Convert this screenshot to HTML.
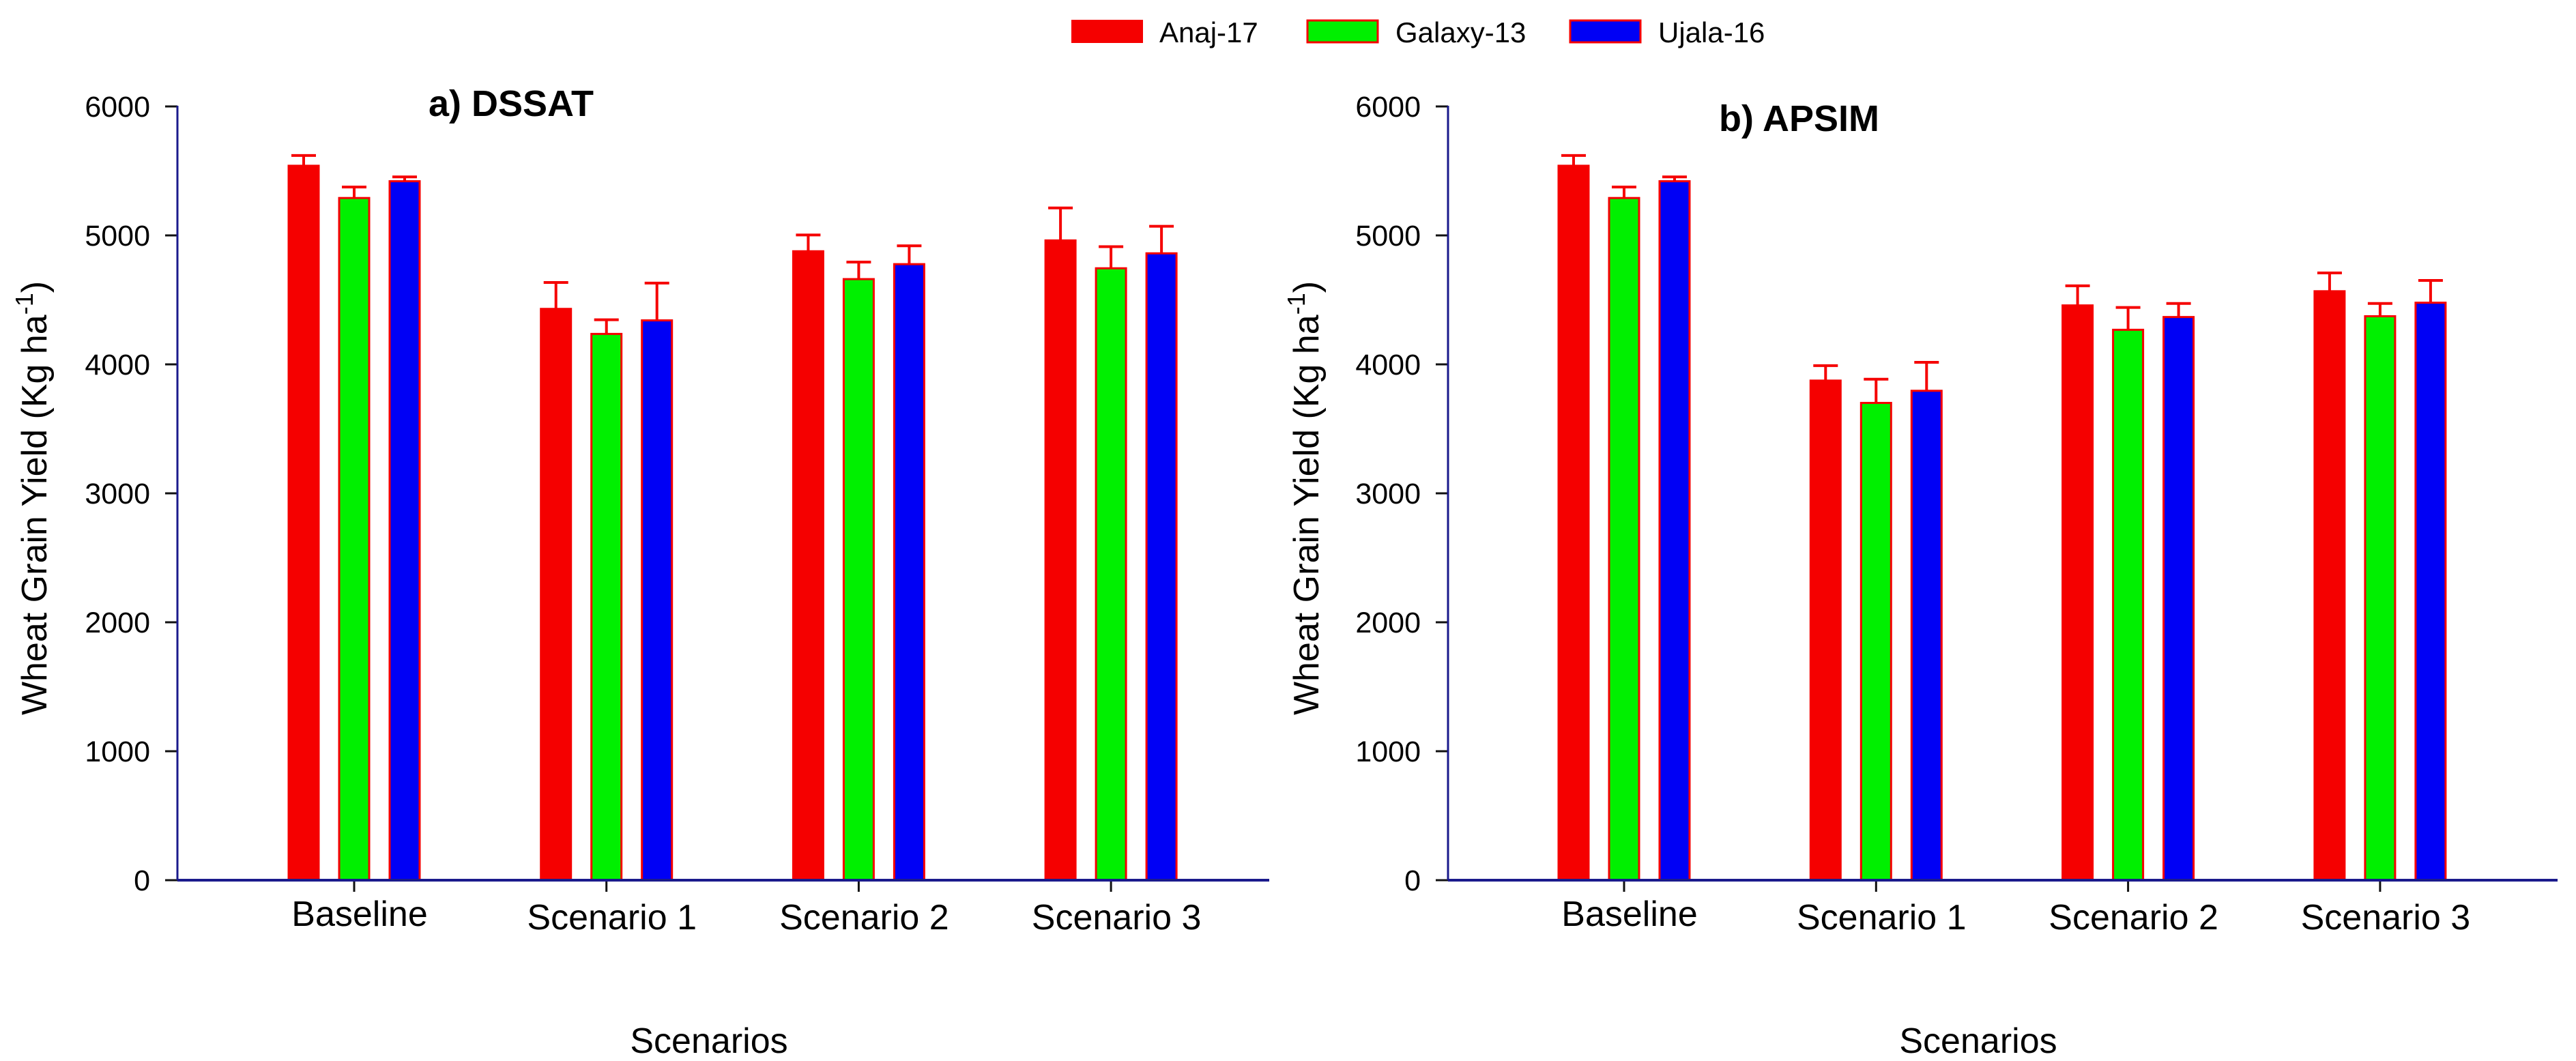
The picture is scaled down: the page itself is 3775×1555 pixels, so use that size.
<!DOCTYPE html>
<html><head><meta charset="utf-8"><style>
html,body{margin:0;padding:0;background:#fff}
svg{display:block}
text{font-family:"Liberation Sans",sans-serif}
</style></head><body>
<svg id="chart" width="3775" height="1555" viewBox="0 0 3775 1555" xmlns="http://www.w3.org/2000/svg">
<g>
<rect x="1571" y="30" width="103" height="32" fill="#f50000" stroke="#f50000" stroke-width="2"/>
<text x="1699" y="62" font-size="42">Anaj-17</text>
<rect x="1916" y="30" width="103" height="32" fill="#00f000" stroke="#f50000" stroke-width="3"/>
<text x="2045" y="62" font-size="42">Galaxy-13</text>
<rect x="2301" y="30" width="103" height="32" fill="#0000f5" stroke="#f50000" stroke-width="3"/>
<text x="2430" y="62" font-size="42">Ujala-16</text>
</g>
</svg>
<script>
const categories = ["Baseline", "Scenario 1", "Scenario 2", "Scenario 3"];
const seriesNames = ["Anaj-17", "Galaxy-13", "Ujala-16"];
const yTicks = [0, 1000, 2000, 3000, 4000, 5000, 6000];
const dssatAnaj = [5540, 4430, 4877, 4961];
const dssatGalaxy = [5290, 4236, 4661, 4745];
const dssatUjala = [5420, 4341, 4777, 4861];
const dssatAnajErr = [5620, 4635, 5003, 5213];
const dssatGalaxyErr = [5375, 4346, 4793, 4913];
const dssatUjalaErr = [5454, 4630, 4919, 5071];
const apsimAnaj = [5540, 3874, 4457, 4567];
const apsimGalaxy = [5290, 3701, 4268, 4373];
const apsimUjala = [5420, 3795, 4367, 4478];
const apsimAnajErr = [5620, 3990, 4609, 4709];
const apsimGalaxyErr = [5375, 3885, 4441, 4472];
const apsimUjalaErr = [5454, 4016, 4472, 4651];

const NS = "http://www.w3.org/2000/svg";
const svg = document.getElementById("chart");
const fills = ["#f50000", "#00f000", "#0000f5"];
function mk(tag, attrs, parent) {
  const e = document.createElementNS(NS, tag);
  for (const k in attrs) e.setAttribute(k, attrs[k]);
  parent.appendChild(e);
  return e;
}
function panel(key, cfg, vals, errs) {
  const g = mk("g", {}, svg);
  
  
  const y0 = 1290, y1 = 156, ymax = 6000;
  const yScale = v => y0 - v / ymax * (y0 - y1);
  const xScale = i => cfg.firstTick + i * cfg.step;
  yTicks.forEach(t => {
    const y = yScale(t);
    const l = mk("line", {x1: cfg.ax - 18, x2: cfg.ax, y1: y, y2: y, stroke: "#111", "stroke-width": 3}, g);
    
    
    const tx = mk("text", {x: cfg.ax - 40, y: y + 15, "font-size": 43, "text-anchor": "end"}, g);
    
    
    tx.textContent = t;
  });
  categories.forEach((c, i) => {
    const cx = xScale(i);
    for (let s = 0; s < 3; s++) {
      const bx = cx + (s - 1) * 74;
      const v = vals[s][i], e = errs[s][i];
      const el = mk("line", {x1: bx, x2: bx, y1: yScale(v), y2: yScale(e), stroke: "#f50000", "stroke-width": 4}, g);
      
      
      const cap = mk("line", {x1: bx - 18, x2: bx + 18, y1: yScale(e), y2: yScale(e), stroke: "#f50000", "stroke-width": 4}, g);
      
      
      const r = mk("rect", {x: bx - 22, y: yScale(v), width: 44, height: y0 - yScale(v), fill: fills[s], stroke: "#f50000", "stroke-width": 3}, g);
      
      
    }
    const tk = mk("line", {x1: cx, x2: cx, y1: y0, y2: y0 + 17, stroke: "#111", "stroke-width": 3}, g);
    
    
    const lb = mk("text", {x: cx + 8, y: y0 + (i === 0 ? 67 : 72), "font-size": 52, "text-anchor": "middle"}, g);
    
    
    lb.textContent = c;
  });
  const ya = mk("line", {x1: cfg.ax, x2: cfg.ax, y1: y1 - 1, y2: y0, stroke: "#1a1a8c", "stroke-width": 3}, g);
  
  
  const xa = mk("line", {x1: cfg.ax, x2: cfg.end, y1: y0, y2: y0, stroke: "#1a1a8c", "stroke-width": 4}, g);
  
  
  const tt = mk("text", {x: cfg.titleX, y: cfg.titleY, "font-size": 54, "font-weight": "bold"}, g);
  
  
  tt.textContent = cfg.title;
  const yt = mk("text", {x: 0, y: 0, "font-size": 52, "text-anchor": "middle", transform: "translate(" + cfg.ytX + ",730) rotate(-90)"}, g);
  
  
  yt.innerHTML = 'Wheat Grain Yield (Kg ha<tspan dy="-20" font-size="36">-1</tspan><tspan dy="20">)</tspan>';
  const xt = mk("text", {x: cfg.xtX, y: 1543, "font-size": 52, "text-anchor": "middle"}, g);
  
  
  xt.textContent = "Scenarios";
}
panel("dssat", {ax: 260, end: 1860, firstTick: 519, step: 369.7, title: "a) DSSAT", titleX: 628, titleY: 170, ytX: 68, xtX: 1039},
  [dssatAnaj, dssatGalaxy, dssatUjala], [dssatAnajErr, dssatGalaxyErr, dssatUjalaErr]);
panel("apsim", {ax: 2122, end: 3748, firstTick: 2380, step: 369.3, title: "b) APSIM", titleX: 2519, titleY: 192, ytX: 1932, xtX: 2899},
  [apsimAnaj, apsimGalaxy, apsimUjala], [apsimAnajErr, apsimGalaxyErr, apsimUjalaErr]);
</script>
</body></html>
